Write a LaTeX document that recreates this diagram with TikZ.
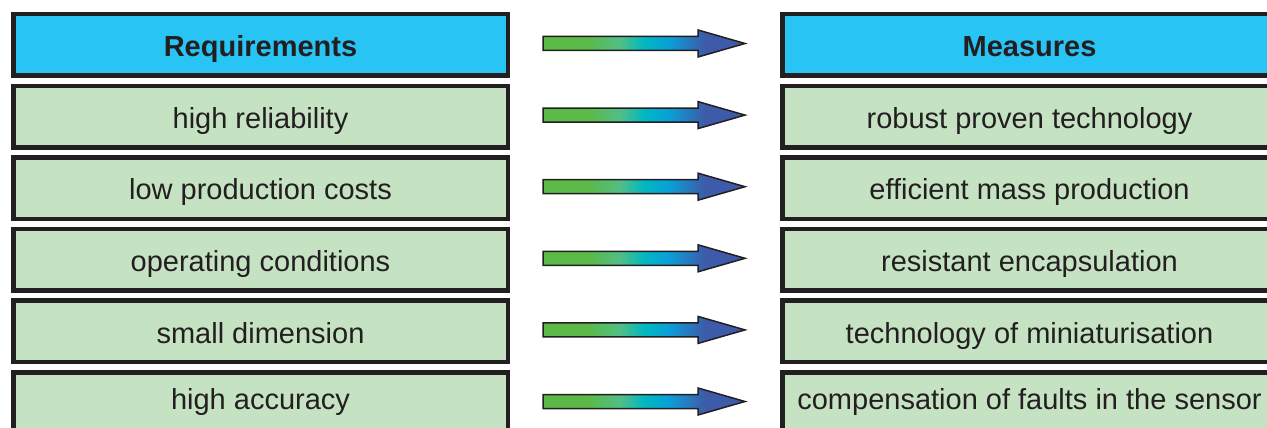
\documentclass[tikz,border=0pt]{standalone}
\usepackage{fontspec}
\setmainfont{Liberation Sans}
\definecolor{dark}{HTML}{231F20}
\definecolor{headfill}{HTML}{27C4F4}
\definecolor{rowfill}{HTML}{C5E2C3}
\definecolor{ag}{HTML}{5BB947}
\definecolor{alg}{HTML}{52BE85}
\definecolor{at}{HTML}{00B8C1}
\definecolor{ac}{HTML}{0AA0D8}
\definecolor{ab}{HTML}{3E5BA9}
\pgfdeclarehorizontalshading{arrowshade}{100bp}{color(0bp)=(ag); color(25bp)=(ag); color(36bp)=(ag); color(44bp)=(alg); color(50bp)=(at); color(56bp)=(ac); color(65bp)=(ab); color(75bp)=(ab); color(100bp)=(ab)}
\tikzset{
  box/.style={draw=dark, line width=4.5pt, minimum width=494.5pt, minimum height=61.5pt, inner sep=0pt, text=dark, text height=24pt, text depth=0.6pt, font=\fontsize{29pt}{34pt}\selectfont},
  headbox/.style={box, fill=headfill, font=\fontsize{29pt}{34pt}\selectfont\bfseries},
  rowbox/.style={box, fill=rowfill},
  lastbox/.style={rowbox, text depth=11.4pt},
  blockarrow/.style={shading=arrowshade, draw=dark, line width=1.5pt, line join=miter}
}
\begin{document}
\begin{tikzpicture}[x=1pt,y=-1pt]
\useasboundingbox (0,0) rectangle (1267,428);
\clip (0,0) rectangle (1267,428);
\node[headbox] (l0) at (260.5,45) {Requirements};
\node[headbox] (r0) at (1029.5,45) {Measures};
\node[rowbox] (l1) at (260.5,116.6) {high reliability};
\node[rowbox] (r1) at (1029.5,116.6) {robust proven technology};
\node[rowbox] (l2) at (260.5,188.2) {low production costs};
\node[rowbox] (r2) at (1029.5,188.2) {efficient mass production};
\node[rowbox] (l3) at (260.5,259.8) {operating conditions};
\node[rowbox] (r3) at (1029.5,259.8) {resistant encapsulation};
\node[rowbox] (l4) at (260.5,331.4) {small dimension};
\node[rowbox] (r4) at (1029.5,331.4) {technology of miniaturisation};
\node[lastbox] (l5) at (260.5,403) {high accuracy};
\node[lastbox] (r5) at (1029.5,403) {compensation of faults in the sensor};
\foreach \i in {0,...,5}{
  \coordinate (s\i) at ([xshift=33pt,yshift=1.5pt]l\i.east);
  \shadedraw[blockarrow] (s\i) ++(0,-7) -- ++(155,0) -- ++(0,-6.5) -- ++(47,13.5) -- ++(-47,13.5) -- ++(0,-6.5) -- ++(-155,0) -- cycle;
}
\end{tikzpicture}
\end{document}
